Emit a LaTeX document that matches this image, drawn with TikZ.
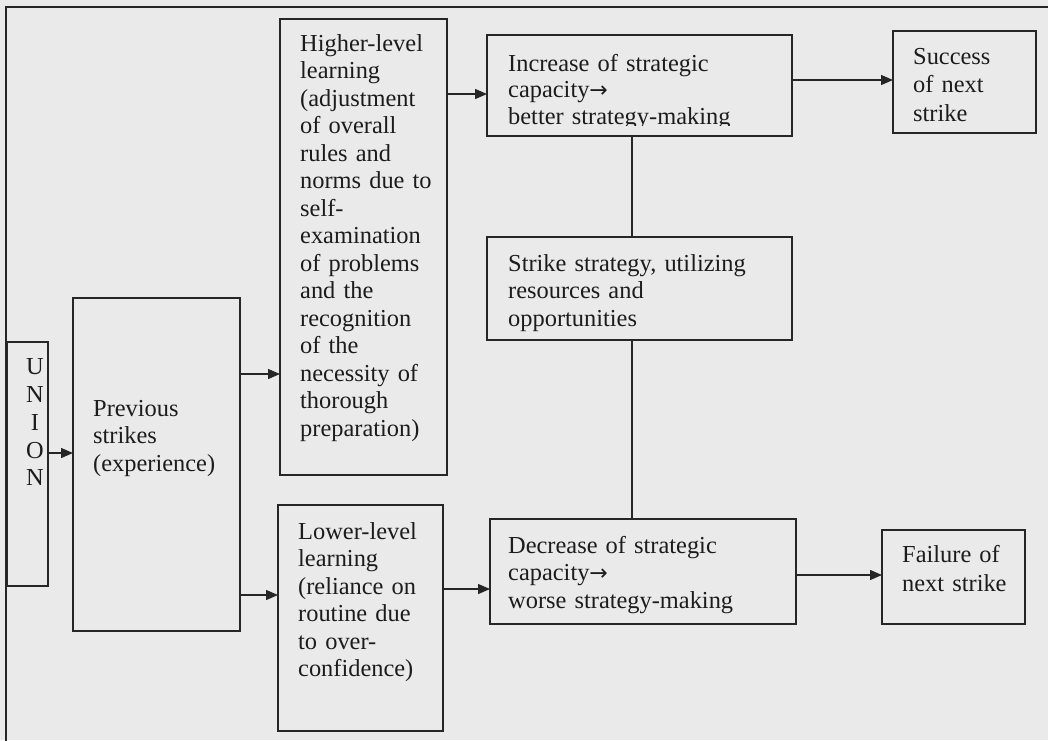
\documentclass[tikz,border=0pt]{standalone}
\usepackage{fontspec}
\setmainfont{Liberation Serif}
\newfontfamily\arrowfont{DejaVu Sans}
\usetikzlibrary{arrows.meta}
\definecolor{paper}{RGB}{234,234,234}
\definecolor{ink}{RGB}{38,38,38}
\definecolor{textink}{RGB}{28,28,28}
\newcommand{\toarrow}{{\arrowfont\fontsize{22}{22}\selectfont →}}
\tikzset{
  box/.style={draw=ink, line width=1.4pt, rectangle, inner sep=0pt, outer sep=0pt, anchor=north west},
  txt/.style={text=textink, inner sep=0pt, anchor=base west, text width=300pt, align=left,
    font=\fontsize{24.4}{27.5}\selectfont},
  arr/.style={draw=ink, line width=1.4pt, -{Triangle[length=12pt,width=10pt]}},
  link/.style={draw=ink, line width=1.4pt}
}
\begin{document}
\begin{tikzpicture}[x=1pt,y=-1pt]
  % page and frame
  \useasboundingbox (0,0) rectangle (1048,740);
  \fill[paper] (0,0) rectangle (1048,740);
  \clip (0,0) rectangle (1048,740);
  \draw[link] (1060,7) -- (6,7) -- (6,760);

  % boxes
  \node[box, minimum width=41pt,  minimum height=244pt] (union) at (7,342) {};
  \node[box, minimum width=167pt, minimum height=333pt] (prev)  at (73,298) {};
  \node[box, minimum width=167pt, minimum height=456pt] (high)  at (280,19) {};
  \node[box, minimum width=165pt, minimum height=226pt] (low)   at (278,505) {};
  \node[box, minimum width=305pt, minimum height=101pt] (inc)   at (487,35) {};
  \node[box, minimum width=143pt, minimum height=102pt] (succ)  at (893,31) {};
  \node[box, minimum width=305pt, minimum height=103pt] (strat) at (487,237) {};
  \node[box, minimum width=306pt, minimum height=105pt] (dec)   at (490,519) {};
  \node[box, minimum width=143pt, minimum height=94pt]  (fail)  at (882,530) {};

  % texts
  \node[txt, text width=20pt, align=center, anchor=base] (tunion) at (35,374)
    {\fontsize{24.4}{28}\selectfont U\\N\\I\\O\\N};
  \node[txt] (tprev) at (93,416) {Previous\\strikes\\(experience)};
  \node[txt] (thigh) at (300,51) {Higher-level\\learning\\(adjustment\\of overall\\rules and\\norms due to\\self-\\examination\\of problems\\and the\\recognition\\of the\\necessity of\\thorough\\preparation)};
  \node[txt] (tlow) at (298,539) {Lower-level\\learning\\(reliance on\\routine due\\to over-\\confidence)};
  \begin{scope}
    \clip (487,35) rectangle (792,125);
    \node[txt, font=\fontsize{24.4}{26.5}\selectfont] (tinc) at (508,71) {Increase of strategic\\capacity\toarrow\\better strategy-making};
  \end{scope}
  \node[txt, font=\fontsize{24.4}{28.5}\selectfont] (tsucc) at (913,64) {Success\\of next\\strike};
  \node[txt] (tstrat) at (508,271) {Strike strategy, utilizing\\resources and\\opportunities};
  \node[txt] (tdec) at (508,553) {Decrease of strategic\\capacity\toarrow\\worse strategy-making};
  \node[txt, font=\fontsize{24.4}{29}\selectfont] (tfail) at (902,562) {Failure of\\next strike};

  % connectors
  \draw[arr] (union.east |- 0,453) -- (prev.west |- 0,453);
  \draw[arr] (prev.east |- 0,374) -- (high.west |- 0,374);
  \draw[arr] (prev.east |- 0,595) -- (low.west |- 0,595);
  \draw[arr] (high.east |- 0,94) -- (inc.west |- 0,94);
  \draw[arr] (low.east |- 0,589) -- (dec.west |- 0,589);
  \draw[arr] (inc.east |- 0,80) -- (succ.west |- 0,80);
  \draw[arr] (dec.east |- 0,575) -- (fail.west |- 0,575);
  \coordinate (spine) at (632,0);
  \draw[link] (inc.south -| spine) -- (strat.north -| spine);
  \draw[link] (strat.south -| spine) -- (dec.north -| spine);
\end{tikzpicture}
\end{document}
